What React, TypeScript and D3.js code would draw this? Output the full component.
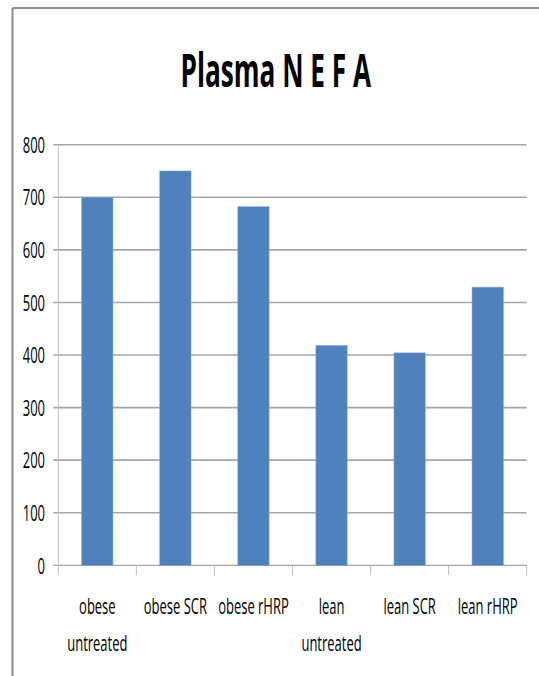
import React from "react";
import * as d3 from "d3";

const categories: string[][] = [
  ["obese", "untreated"],
  ["obese SCR"],
  ["obese rHRP"],
  ["lean", "untreated"],
  ["lean SCR"],
  ["lean rHRP"],
];
const values: number[] = [700, 750, 682, 418, 404, 529];
const yTicks: number[] = [0, 100, 200, 300, 400, 500, 600, 700, 800];
const title = "Plasma N E F A";

const W = 539;
const H = 676;
const plotLeft = 58.3;
const plotRight = 526.7;
const plotTop = 144.7;
const plotBottom = 565.3;
const SX = 0.58;
const FONT = "'Open Sans', 'Liberation Sans', sans-serif";
const BAR = "#4F81BD";
const GRID = "#A6A6A6";

export default function App() {
  const keys = categories.map((c) => c.join(" "));
  const x = d3
    .scaleBand<string>()
    .domain(keys)
    .range([plotLeft, plotRight])
    .paddingInner(0.6)
    .paddingOuter(0.3);
  const y = d3.scaleLinear().domain([0, 800]).range([plotBottom, plotTop]);
  const step = x.step();
  const boundaries = d3.range(keys.length + 1).map((i) => plotLeft + i * step);

  return (
    <svg
      width={W}
      height={H}
      style={{ position: "absolute", left: 0, top: 0, background: "#fff" }}
    >
      <rect x={0} y={0} width={W} height={H} fill="#fff" />
      {/* outer chart border */}
      <line x1={12.5} y1={8} x2={W} y2={8} stroke="#8C8C8C" strokeWidth={2} />
      <line x1={12.5} y1={8} x2={12.5} y2={H} stroke="#8C8C8C" strokeWidth={2} />

      {/* title */}
      <g transform={`translate(${275.8},${86.7}) scale(${0.57},1)`}>
        <text
          x={0}
          y={0}
          textAnchor="middle"
          fontFamily={FONT}
          fontWeight="bold"
          fontSize={46}
          fill="#000"
        >
          {title}
        </text>
      </g>

      {/* gridlines */}
      {yTicks.map((t) => (
        <line
          key={`g${t}`}
          x1={53.3}
          x2={plotRight}
          y1={y(t)}
          y2={y(t)}
          stroke={GRID}
          strokeWidth={t === 0 ? 1.2 : 1.6}
        />
      ))}
      {/* y axis */}
      <line x1={plotLeft} x2={plotLeft} y1={plotTop} y2={plotBottom} stroke="#BFBFBF" strokeWidth={1} />
      {/* x ticks */}
      {boundaries.map((bx, i) => (
        <line key={`xt${i}`} x1={bx} x2={bx} y1={plotBottom} y2={plotBottom + 10} stroke="#BFBFBF" strokeWidth={1} />
      ))}

      {/* y tick labels */}
      {yTicks.map((t) => (
        <g key={`yl${t}`} transform={`translate(${45},${y(t) + 8.2}) scale(${SX},1)`}>
          <text x={0} y={0} textAnchor="end" fontFamily={FONT} fontSize={22.4} fill="#000">
            {t}
          </text>
        </g>
      ))}

      {/* bars */}
      {keys.map((k, i) => (
        <rect
          key={`b${i}`}
          x={x(k)}
          y={y(values[i])}
          width={x.bandwidth()}
          height={y(0) - y(values[i])}
          fill={BAR}
          stroke="#7FA3D3"
          strokeWidth={0.6}
        />
      ))}

      {/* x labels */}
      {categories.map((lines, i) => {
        const cx = (x(keys[i]) as number) + x.bandwidth() / 2;
        return lines.map((ln, j) => (
          <g key={`xl${i}-${j}`} transform={`translate(${cx},${614 + j * 36.7}) scale(${SX},1)`}>
            <text x={0} y={0} textAnchor="middle" fontFamily={FONT} fontSize={22.4} fill="#000">
              {ln}
            </text>
          </g>
        ));
      })}
    </svg>
  );
}
